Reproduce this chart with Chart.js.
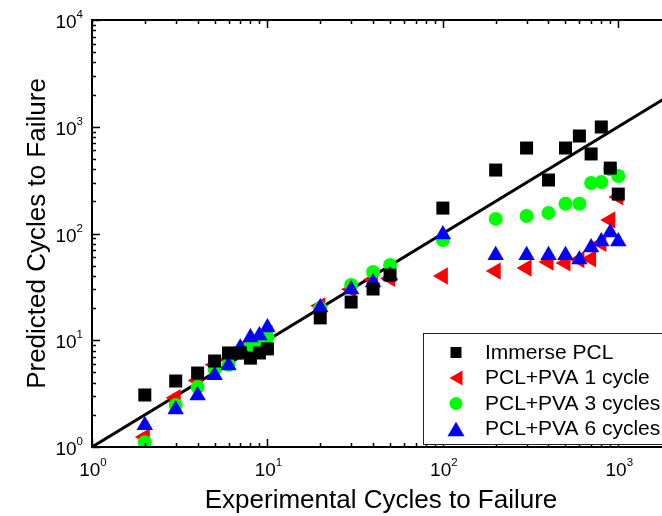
<!DOCTYPE html>
<html><head><meta charset="utf-8">
<script src="https://cdn.jsdelivr.net/npm/chart.js@4.4.1/dist/chart.umd.min.js"></script>
<style>
html,body{margin:0;padding:0;overflow:hidden;background:#fff;width:662px;height:516px}
canvas{display:block}
</style></head>
<body><canvas id="c" width="720" height="516"></canvas>
<script>
// ---- data ----
const experimental = [2,3,4,5,6,7,8,9,10,20,30,40,50,100,200,300,400,500,600,700,800,900,1000];
const immersePCL  = [3.07,4.15,4.93,6.39,7.6,7.6,6.8,7.6,8.3,16.2,22.8,30.2,40.8,173,393,632,317,632,819,556,995,410,234];
const pva1Cycle   = [1.24,2.9,4.2,5.9,6.6,8.0,9.5,10.2,11.5,21,30,37,38,40,44.5,47.5,54,53,57,58,81,134,220];
const pva3Cycles  = [1.11,2.47,3.65,5.3,5.9,7.6,8.8,10,10.7,20,33,43.6,50.7,87,137,146,156,190,190,297,303,400,346];
const pva6Cycles  = [1.6,2.25,3.04,4.69,5.81,8.5,10.6,11.1,13.2,20.3,29.9,34.8,40.5,98,62.4,62.4,62.4,62.4,57.2,74,84.3,102.4,84.3];
const idealLine   = [1, 3000];           // Predicted = Experimental
const seriesNames = ['Immerse PCL','PCL+PVA 1 cycle','PCL+PVA 3 cycles','PCL+PVA 6 cycles'];
const xTickExp = [0,1,2,3];
const yTickExp = [0,1,2,3,4];
const xTitle = 'Experimental Cycles to Failure';
const yTitle = 'Predicted Cycles to Failure';

const FONT = '"Liberation Sans", Arial, Helvetica, sans-serif';
const pts = ys => experimental.map((x,i)=>({x:x, y:ys[i]}));

function drawMarker(ctx, kind, color, cx, cy, s){
  ctx.fillStyle = color;
  ctx.beginPath();
  if(kind==='rect'){ ctx.rect(cx-s/2, cy-s/2, s, s); }
  else if(kind==='circle'){ ctx.arc(cx, cy, s/2, 0, Math.PI*2); }
  else if(kind==='up'){ const w=s, h=s*0.866; ctx.moveTo(cx, cy-h/2); ctx.lineTo(cx+w/2, cy+h/2); ctx.lineTo(cx-w/2, cy+h/2); ctx.closePath(); }
  else if(kind==='left'){ const h=s, w=s*0.866; ctx.moveTo(cx-w/2, cy); ctx.lineTo(cx+w/2, cy-h/2); ctx.lineTo(cx+w/2, cy+h/2); ctx.closePath(); }
  ctx.fill();
}

const axesPlugin = {
  id:'axesPlugin',
  afterDraw(chart){
    const ctx = chart.ctx, xs = chart.scales.x, ys = chart.scales.y;
    const a = chart.chartArea;
    const L=a.left, R=a.right, T=a.top, B=a.bottom;
    ctx.save();
    ctx.strokeStyle='#000';
    // ticks (inward)
    ctx.lineWidth = 1.5;
    ctx.beginPath();
    for(let k=0;k<=4;k++){
      for(let m=1;m<=9;m++){
        const v = m*Math.pow(10,k);
        const len = m===1?8:4;
        if(v>=xs.min && v<=xs.max){
          const px = Math.round(xs.getPixelForValue(v))+0.5;
          ctx.moveTo(px,B); ctx.lineTo(px,B-len);
          ctx.moveTo(px,T); ctx.lineTo(px,T+len);
        }
        if(v>=ys.min && v<=ys.max){
          const py = Math.round(ys.getPixelForValue(v))+0.5;
          ctx.moveTo(L,py); ctx.lineTo(L+len,py);
          ctx.moveTo(R,py); ctx.lineTo(R-len,py);
        }
      }
    }
    ctx.stroke();
    // frame
    ctx.lineWidth = 2;
    ctx.strokeRect(L, T, R-L, B-T);

    // tick labels
    ctx.fillStyle='#000';
    ctx.textBaseline='alphabetic';
    yTickExp.forEach(e=>{
      const py = ys.getPixelForValue(Math.pow(10,e));
      ctx.font = '11.5px '+FONT;
      ctx.textAlign='left';
      const ew = ctx.measureText(String(e)).width;
      ctx.fillText(String(e), 83-ew, py-2);
      ctx.font = '19px '+FONT;
      ctx.textAlign='right';
      ctx.fillText('10', 83-ew, py+8);
    });
    xTickExp.forEach(e=>{
      const px = xs.getPixelForValue(Math.pow(10,e));
      ctx.font = '19px '+FONT;
      const bw = ctx.measureText('10').width;
      ctx.font = '11.5px '+FONT;
      const ew = ctx.measureText(String(e)).width;
      const x0 = px - (bw+ew)/2 + 1;
      ctx.textAlign='left';
      ctx.fillText(String(e), x0+bw, 466);
      ctx.font = '19px '+FONT;
      ctx.fillText('10', x0, 476);
    });

    // axis titles
    ctx.font = '26px '+FONT;
    ctx.textAlign='center';
    ctx.fillText(xTitle, 381, 508);
    ctx.save();
    ctx.translate(45, 233.5);
    ctx.rotate(-Math.PI/2);
    ctx.fillText(yTitle, 0, 0);
    ctx.restore();

    // legend
    ctx.fillStyle='#fff';
    ctx.fillRect(423.5, 333.5, 400, 111);
    ctx.lineWidth=1;
    ctx.strokeStyle='#222';
    ctx.strokeRect(423.5, 333.5, 400, 111);
    const kinds = ['rect','left','circle','up'];
    const colors = ['#000000','#ff0000','#00ff00','#0000ff'];
    const sizes = [11,15,13,17];
    ctx.font = '21px '+FONT;
    ctx.textAlign='left';
    seriesNames.forEach((n,i)=>{
      const base = 358.5 + i*25.5;
      drawMarker(ctx, kinds[i], colors[i], 456, base-6, sizes[i]);
      ctx.fillStyle='#000';
      ctx.fillText(n, 485, base);
    });
    ctx.restore();
  }
};

new Chart(document.getElementById('c'), {
  type:'scatter',
  data:{ datasets:[
    {label:seriesNames[0], data:pts(immersePCL), pointStyle:'rect', pointRadius:9.2,
     backgroundColor:'#000000', pointBackgroundColor:'#000000', pointBorderWidth:0, borderWidth:0, order:0},
    {label:seriesNames[3], data:pts(pva6Cycles), pointStyle:'triangle', pointRadius:9.5,
     backgroundColor:'#0000ff', pointBackgroundColor:'#0000ff', pointBorderWidth:0, borderWidth:0, order:1},
    {label:seriesNames[2], data:pts(pva3Cycles), pointStyle:'circle', pointRadius:7,
     backgroundColor:'#00ff00', pointBackgroundColor:'#00ff00', pointBorderWidth:0, borderWidth:0, order:2},
    {label:seriesNames[1], data:pts(pva1Cycle), pointStyle:'triangle', pointRotation:-90, pointRadius:10,
     backgroundColor:'#ff0000', pointBackgroundColor:'#ff0000', pointBorderWidth:0, borderWidth:0, order:3},
    {label:'ideal', data:idealLine.map(v=>({x:v,y:v})), showLine:true, borderColor:'#000000',
     borderWidth:3, pointRadius:0, fill:false, order:4}
  ]},
  options:{
    responsive:false, animation:false, events:[],
    layout:{padding:{left:92, top:20, right:18, bottom:69}},
    plugins:{legend:{display:false}, tooltip:{enabled:false}},
    scales:{
      x:{type:'logarithmic', min:1, max:3000, display:false},
      y:{type:'logarithmic', min:1, max:10000, display:false}
    }
  },
  plugins:[axesPlugin]
});
</script>
</body></html>
